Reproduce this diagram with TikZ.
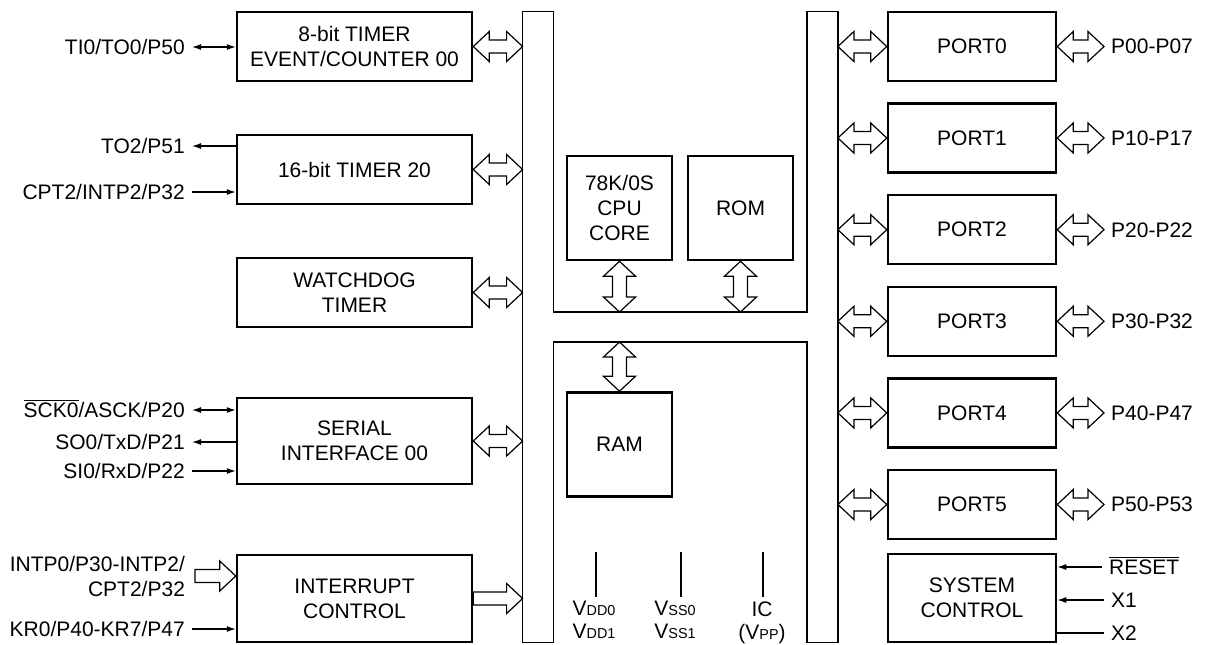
\documentclass[tikz,border=0pt]{standalone}
\usepackage{fontspec}
\setmainfont{Liberation Sans}
\usetikzlibrary{arrows.meta,calc}
\newcommand{\pinsub}[1]{{\fontsize{7.2}{8}\selectfont #1}}
\begin{document}
\begin{tikzpicture}
[x=.5pt,y=-.5pt,every node/.style={font=\fontsize{10.5}{12.5}\selectfont},
block/.style={draw,line width=1.25pt,align=center,inner sep=0pt,minimum width=117.5pt,minimum height=34.5pt},
portbox/.style={block,minimum width=84pt},
corebox/.style={block,minimum width=52.5pt,minimum height=52pt},
busbar/.style={inner sep=0pt,minimum width=15pt,minimum height=315pt},
lbl/.style={inner sep=3.4pt,text height=7.4pt,text depth=0pt},
sig/.style={line width=.6pt,>={Latex[length=4.5pt,width=3pt]}},
hollow/.style={draw,fill=white,line width=.6pt,line join=miter},
hdbl/.style={hollow,to path={let \p1=(\tikztostart),\p2=(\tikztotarget) in (\x1,\y1) -- (\x1+8pt,\y1+7.5pt) -- (\x1+8pt,\y1+3.25pt) -- (\x2-8pt,\y1+3.25pt) -- (\x2-8pt,\y1+7.5pt) -- (\x2,\y1) -- (\x2-8pt,\y1-7.5pt) -- (\x2-8pt,\y1-3.25pt) -- (\x1+8pt,\y1-3.25pt) -- (\x1+8pt,\y1-7.5pt) -- cycle}},
hsgl/.style={hollow,to path={let \p1=(\tikztostart),\p2=(\tikztotarget) in (\x1,\y1+3.25pt) -- (\x2-8pt,\y1+3.25pt) -- (\x2-8pt,\y1+7.5pt) -- (\x2,\y1) -- (\x2-8pt,\y1-7.5pt) -- (\x2-8pt,\y1-3.25pt) -- (\x1,\y1-3.25pt) -- cycle}},
vdbl/.style={hollow,to path={let \p1=(\tikztostart),\p2=(\tikztotarget) in (\x1,\y1) -- (\x1+8pt,\y1-7.5pt) -- (\x1+3.5pt,\y1-7.5pt) -- (\x1+3.5pt,\y2+7.5pt) -- (\x1+8pt,\y2+7.5pt) -- (\x1,\y2) -- (\x1-8pt,\y2+7.5pt) -- (\x1-3.5pt,\y2+7.5pt) -- (\x1-3.5pt,\y1-7.5pt) -- (\x1-8pt,\y1-7.5pt) -- cycle}}]
\useasboundingbox (0,0) rectangle (1205,644);

\node[block] (tm00) at (354.5,46.5) {8-bit TIMER\\EVENT/COUNTER 00};
\node[block] (tm20) at (354.5,169.5) {16-bit TIMER 20};
\node[block] (wdt) at (354.5,292.5) {WATCHDOG\\TIMER};
\node[block,minimum height=43pt] (sio) at (354.5,441) {SERIAL\\INTERFACE 00};
\node[block,minimum height=43.5pt] (intc) at (354.5,598.5) {INTERRUPT\\CONTROL};

\node[busbar] (lbus) at (538,327) {};
\node[busbar] (rbus) at (822.5,327) {};
\coordinate (xtop) at (680,312);
\coordinate (xbot) at (680,342);
\draw[line width=.75pt] (lbus.north west) -- (lbus.north east) -- (lbus.east |- xtop) -- (rbus.west |- xtop) -- (rbus.north west) -- (rbus.north east) -- (rbus.south east) -- (rbus.south west) -- (rbus.west |- xbot) -- (lbus.east |- xbot) -- (lbus.south east) -- (lbus.south west) -- cycle;

\node[corebox] (cpu) at (619.5,208) {78K/0S\\CPU\\CORE};
\node[corebox] (rom) at (740.5,208) {ROM};
\node[corebox] (ram) at (619.5,444.5) {RAM};
\draw[vdbl] (cpu.south) to (cpu.south |- xtop);
\draw[vdbl] (rom.south) to (rom.south |- xtop);
\draw[vdbl] (ram.north |- xbot) to (ram.north);

\foreach \b in {tm00,tm20,wdt,sio} \draw[hdbl] (\b.east) to (\b.east -| lbus.west);
\draw[hsgl] (intc.east) to (intc.east -| lbus.west);

\node[lbl,anchor=east] (ti0) at (192,47) {TI0/TO0/P50};
\node[lbl,anchor=east] (to2) at (192,146) {TO2/P51};
\node[lbl,anchor=east] (cpt2) at (192,192) {CPT2/INTP2/P32};
\node[lbl,anchor=east] (sck0) at (192,410) {$\overline{\mbox{SCK0}}$/ASCK/P20};
\node[lbl,anchor=east] (so0) at (192,442) {SO0/TxD/P21};
\node[lbl,anchor=east] (si0) at (192,471) {SI0/RxD/P22};
\node[align=right,anchor=east] (intp) at (192,576) {INTP0/P30-INTP2/\\CPT2/P32};
\node[lbl,anchor=east] (kr0) at (192,629) {KR0/P40-KR7/P47};
\draw[sig,<->] (ti0.east) -- (ti0.east -| tm00.west);
\draw[sig,->] (tm20.west |- to2.east) -- (to2.east);
\draw[sig,->] (cpt2.east) -- (cpt2.east -| tm20.west);
\draw[sig,<->] (sck0.east) -- (sck0.east -| sio.west);
\draw[sig,->] (sio.west |- so0.east) -- (so0.east);
\draw[sig,->] (si0.east) -- (si0.east -| sio.west);
\draw[hsgl] ([xshift=1.5pt]intp.east) to (intp.east -| intc.west);
\draw[sig,->] (kr0.east) -- (kr0.east -| intc.west);

\foreach \i/\py/\pins in {0/46.5/P00-P07,1/138/P10-P17,2/229.7/P20-P22,3/321.3/P30-P32,4/412.9/P40-P47,5/504.5/P50-P53}{
\node[portbox] (port\i) at (972,\py) {PORT\i};
\node[lbl,anchor=west] (pins\i) at (1104,\py) {\pins};
\draw[hdbl] (rbus.east |- port\i.west) to (port\i.west);
\draw[hdbl] (port\i.east) to (pins\i.west);
}

\node[portbox,minimum height=44pt] (sysc) at (972,598) {SYSTEM\\CONTROL};
\node[lbl,anchor=west] (rst) at (1102,567) {$\overline{\mbox{RESET}}$};
\node[lbl,anchor=west] (x1) at (1104,600) {X1};
\node[lbl,anchor=west] (x2) at (1104,633) {X2};
\draw[sig,->] (rst.west) -- (rst.west -| sysc.east);
\draw[sig,->] (x1.west) -- (x1.west -| sysc.east);
\draw[sig] (sysc.east |- x2.west) -- (x2.west);

\coordinate (vddpin) at (596,552);
\coordinate (vsspin) at (681,552);
\coordinate (icpin) at (763,552);
\node[anchor=north,align=center,inner sep=2pt] (vdd) at (594,597) {V\pinsub{DD0}\\[-1pt]V\pinsub{DD1}};
\node[anchor=north,align=center,inner sep=2pt] (vss) at (675,597) {V\pinsub{SS0}\\[-1pt]V\pinsub{SS1}};
\node[anchor=north,align=center,inner sep=2pt] (ic) at (762,597) {IC\\[-1pt](V\pinsub{PP})};
\draw[sig] (vddpin) -- (vddpin |- vdd.north);
\draw[sig] (vsspin) -- (vsspin |- vss.north);
\draw[sig] (icpin) -- (icpin |- ic.north);
\end{tikzpicture}
\end{document}
